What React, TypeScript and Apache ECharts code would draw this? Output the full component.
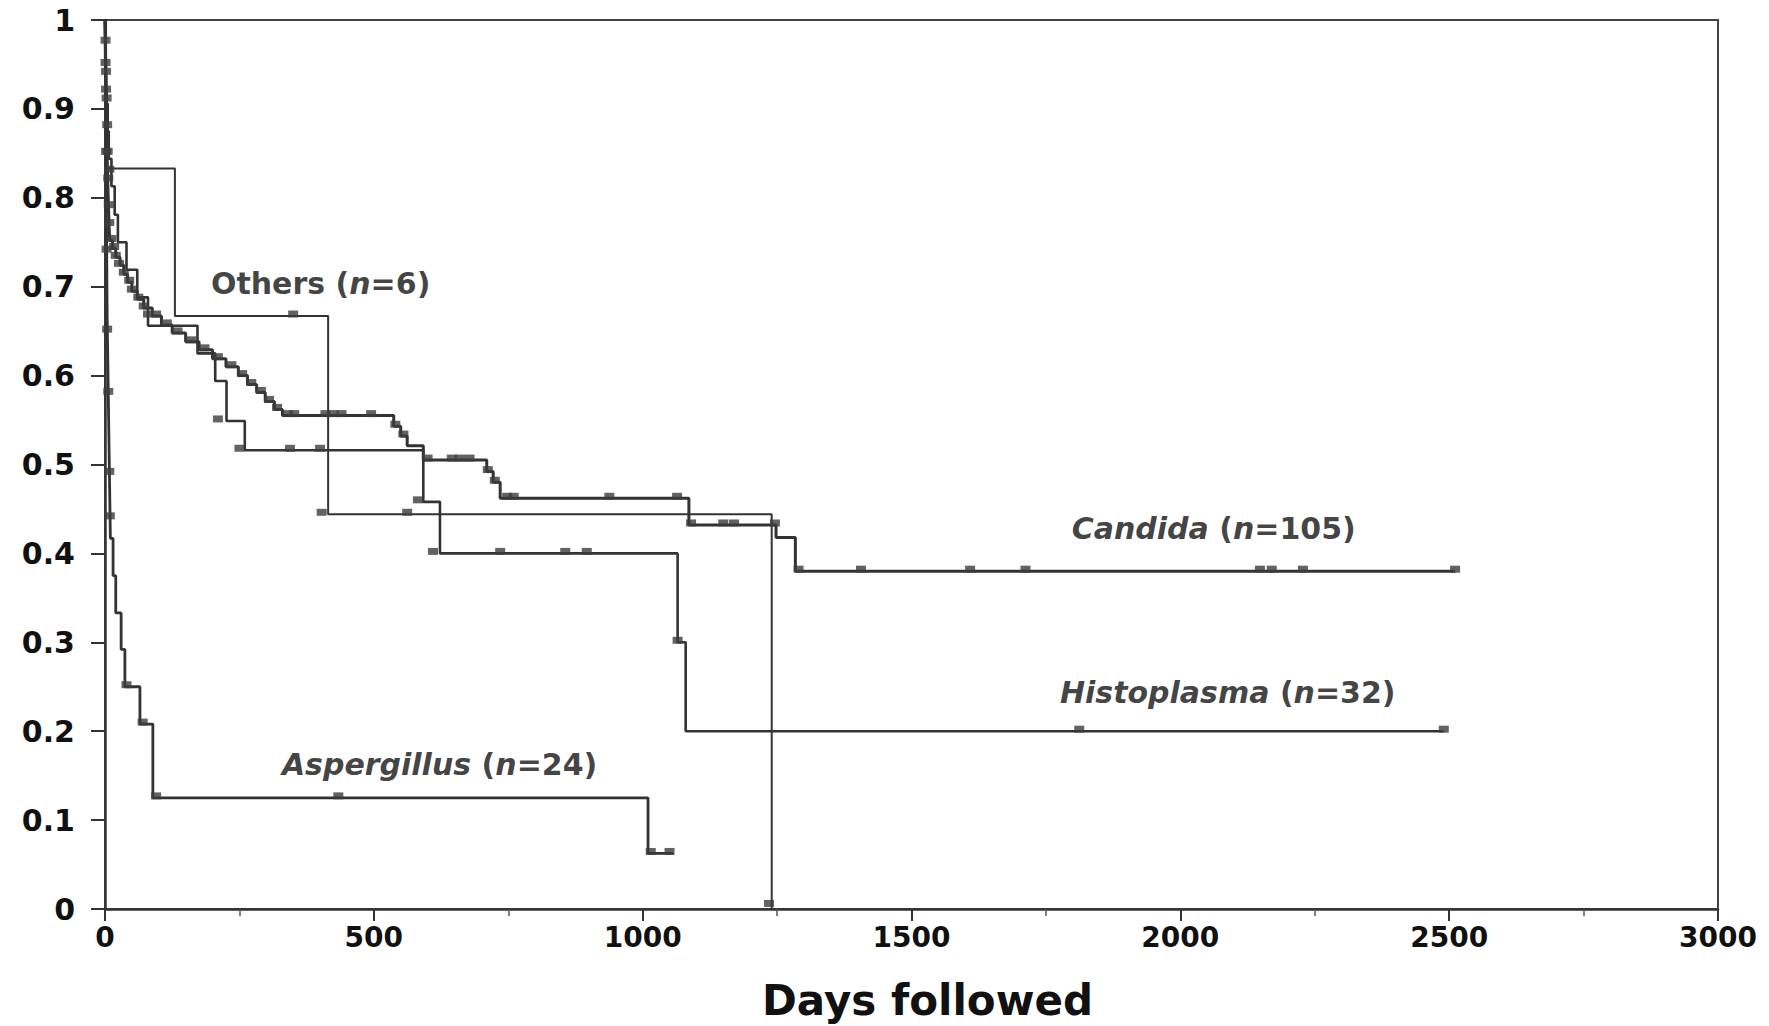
import React, { useEffect, useRef } from "react";
import * as echarts from "echarts";

// ---------- Data (Kaplan-Meier step curves) ----------
const candidaDays = [0, 0.5, 1, 1.5, 2, 2.5, 3, 3.5, 4, 4.5, 5, 5.5, 6, 6.5, 7, 7.5, 8, 9, 14, 20, 28, 35, 42, 50, 60, 72, 88, 105, 125, 150, 175, 200, 225, 248, 265, 282, 298, 315, 330, 537, 550, 562, 592, 710, 722, 735, 1086, 1248, 1284, 2511];
const candidaSurv = [1, 0.981, 0.962, 0.943, 0.924, 0.905, 0.886, 0.867, 0.848, 0.829, 0.819, 0.810, 0.800, 0.790, 0.781, 0.771, 0.762, 0.752, 0.743, 0.733, 0.724, 0.714, 0.705, 0.695, 0.686, 0.676, 0.667, 0.657, 0.648, 0.638, 0.629, 0.619, 0.610, 0.600, 0.590, 0.581, 0.571, 0.562, 0.555, 0.543, 0.532, 0.521, 0.505, 0.492, 0.480, 0.462, 0.432, 0.418, 0.380, 0.380];
const candidaCensorDays = [1, 2, 3, 4, 5, 6, 7, 8, 12, 17, 20, 26, 35, 45, 50, 62, 72, 80, 95, 115, 135, 160, 185, 210, 235, 255, 272, 290, 305, 320, 340, 352, 410, 425, 440, 495, 540, 555, 600, 645, 660, 678, 712, 725, 748, 760, 938, 1064, 1090, 1150, 1170, 1246, 1290, 1406, 1609, 1712, 2148, 2170, 2228, 2511];
const candidaCensorSurv = [0.975, 0.94, 0.91, 0.88, 0.85, 0.82, 0.79, 0.77, 0.752, 0.743, 0.733, 0.724, 0.714, 0.705, 0.695, 0.686, 0.676, 0.667, 0.667, 0.657, 0.648, 0.638, 0.629, 0.619, 0.610, 0.600, 0.590, 0.581, 0.571, 0.562, 0.555, 0.555, 0.555, 0.555, 0.555, 0.555, 0.543, 0.532, 0.505, 0.505, 0.505, 0.505, 0.492, 0.480, 0.462, 0.462, 0.462, 0.462, 0.432, 0.432, 0.432, 0.432, 0.380, 0.380, 0.380, 0.380, 0.380, 0.380, 0.380, 0.380];

const histoDays = [0, 1, 2, 3, 5, 7, 12, 18, 24, 40, 60, 80, 172, 205, 226, 260, 592, 623, 1065, 1080, 2490];
const histoSurv = [1, 0.969, 0.938, 0.906, 0.875, 0.844, 0.813, 0.781, 0.750, 0.719, 0.688, 0.656, 0.625, 0.594, 0.549, 0.516, 0.458, 0.400, 0.300, 0.200, 0.200];
const histoCensorDays = [2, 8, 210, 250, 344, 400, 582, 610, 735, 856, 896, 1065, 1812, 2490];
const histoCensorSurv = [0.92, 0.83, 0.549, 0.516, 0.516, 0.516, 0.458, 0.400, 0.400, 0.400, 0.400, 0.300, 0.200, 0.200];

const aspDays = [0, 0.5, 1, 1.5, 2, 2.5, 3, 3.5, 4, 5, 6, 7, 8, 9, 10, 15, 20, 30, 37, 65, 89, 1010, 1057];
const aspSurv = [1, 0.958, 0.917, 0.875, 0.833, 0.792, 0.750, 0.708, 0.667, 0.625, 0.583, 0.542, 0.500, 0.458, 0.417, 0.375, 0.333, 0.292, 0.250, 0.208, 0.125, 0.0625, 0.0625];
const aspCensorDays = [1, 2, 3, 4, 6, 8, 9, 40, 70, 95, 434, 1015, 1050];
const aspCensorSurv = [0.95, 0.85, 0.74, 0.65, 0.58, 0.49, 0.44, 0.250, 0.208, 0.125, 0.125, 0.0625, 0.0625];

const othersDays = [0, 2, 130, 415, 1240, 1240];
const othersSurv = [1, 0.833, 0.667, 0.444, 0.0, 0.0];
const othersCensorDays = [350, 403, 562, 1235];
const othersCensorSurv = [0.667, 0.444, 0.444, 0.004];

// Group labels: rich text, anchored at [day, survival] (left edge of the text)
const labelTexts = [
  "{b|Others (}{i|n}{b|=6)}",
  "{i|Candida}{b| (}{i|n}{b|=105)}",
  "{i|Histoplasma}{b| (}{i|n}{b|=32)}",
  "{i|Aspergillus}{b| (}{i|n}{b|=24)}",
];
const labelDays = [197, 1798, 1776, 329];
const labelSurv = [0.704, 0.428, 0.244, 0.162];

const xTitle = "Days followed";

const zip = (a: number[], b: number[]) => a.map((v, i) => [v, b[i]]);

const LINE = "#333333";
const FONT = "DejaVu Sans";

export default function App() {
  const ref = useRef<HTMLDivElement>(null);

  useEffect(() => {
    if (!ref.current) return;
    const chart = echarts.init(ref.current, undefined, { renderer: "svg" });

    const stepSeries = (name: string, d: number[], s: number[], w: number) => ({
      name,
      type: "line",
      step: "end",
      data: zip(d, s),
      showSymbol: false,
      symbol: "none",
      lineStyle: { color: LINE, width: w },
      z: 3,
    });
    const censorSeries = (name: string, d: number[], s: number[]) => ({
      name,
      type: "scatter",
      data: zip(d, s),
      symbol: "rect",
      symbolSize: [10, 7],
      symbolOffset: [0, -2],
      itemStyle: { color: "#3c3c3c" },
      z: 4,
    });

    const txt = { fontFamily: FONT, fontWeight: "bold", fontSize: 30, color: "#111" };

    chart.setOption({
      animation: false,
      backgroundColor: "#ffffff",
      grid: {
        left: 105,
        right: 51,
        top: 20,
        bottom: 115,
        show: true,
        borderColor: "#444",
        borderWidth: 2,
      },
      xAxis: {
        type: "value",
        min: 0,
        max: 3000,
        interval: 500,
        name: xTitle,
        nameLocation: "middle",
        nameGap: 70,
        nameTextStyle: {
          fontFamily: FONT,
          fontWeight: "bold",
          fontSize: 42,
          color: "#111",
          padding: [0, 0, 0, 32],
        },
        axisLine: { show: true, onZero: false, lineStyle: { color: "#333", width: 2.5 } },
        axisTick: { show: true, length: 12, lineStyle: { color: "#333", width: 2 } },
        minorTick: { show: true, splitNumber: 2, length: 7, lineStyle: { color: "#555", width: 1.5 } },
        axisLabel: {
          fontFamily: FONT,
          fontWeight: "bold",
          fontSize: 28,
          color: "#111",
          margin: 14,
          formatter: (v: number) => String(v),
        },
        splitLine: { show: false },
      },
      yAxis: {
        type: "value",
        min: 0,
        max: 1,
        interval: 0.1,
        axisLine: { show: true, onZero: false, lineStyle: { color: "#333", width: 2.5 } },
        axisTick: { show: true, length: 14, lineStyle: { color: "#333", width: 2 } },
        axisLabel: {
          fontFamily: FONT,
          fontWeight: "bold",
          fontSize: 30,
          color: "#111",
          margin: 30,
          formatter: (v: number) => String(Math.round(v * 10) / 10),
        },
        splitLine: { show: false },
      },
      series: [
        stepSeries("Candida", candidaDays, candidaSurv, 3),
        stepSeries("Histoplasma", histoDays, histoSurv, 2.6),
        stepSeries("Aspergillus", aspDays, aspSurv, 2.8),
        stepSeries("Others", othersDays, othersSurv, 2),
        censorSeries("Candida censored", candidaCensorDays, candidaCensorSurv),
        censorSeries("Histoplasma censored", histoCensorDays, histoCensorSurv),
        censorSeries("Aspergillus censored", aspCensorDays, aspCensorSurv),
        censorSeries("Others censored", othersCensorDays, othersCensorSurv),
        {
          name: "labels",
          type: "scatter",
          symbolSize: 0,
          silent: true,
          data: labelDays.map((d, i) => ({
            value: [d, labelSurv[i]],
            label: {
              show: true,
              position: "right",
              distance: 0,
              color: "#111",
              formatter: labelTexts[i],
              rich: {
                b: { ...txt },
                i: { ...txt, fontStyle: "italic" },
              },
            },
          })),
          z: 5,
        },
      ],
    });

    return () => chart.dispose();
  }, []);

  return (
    <div
      ref={ref}
      style={{ position: "absolute", left: 0, top: 0, width: 1769, height: 1026, background: "#fff" }}
    />
  );
}
